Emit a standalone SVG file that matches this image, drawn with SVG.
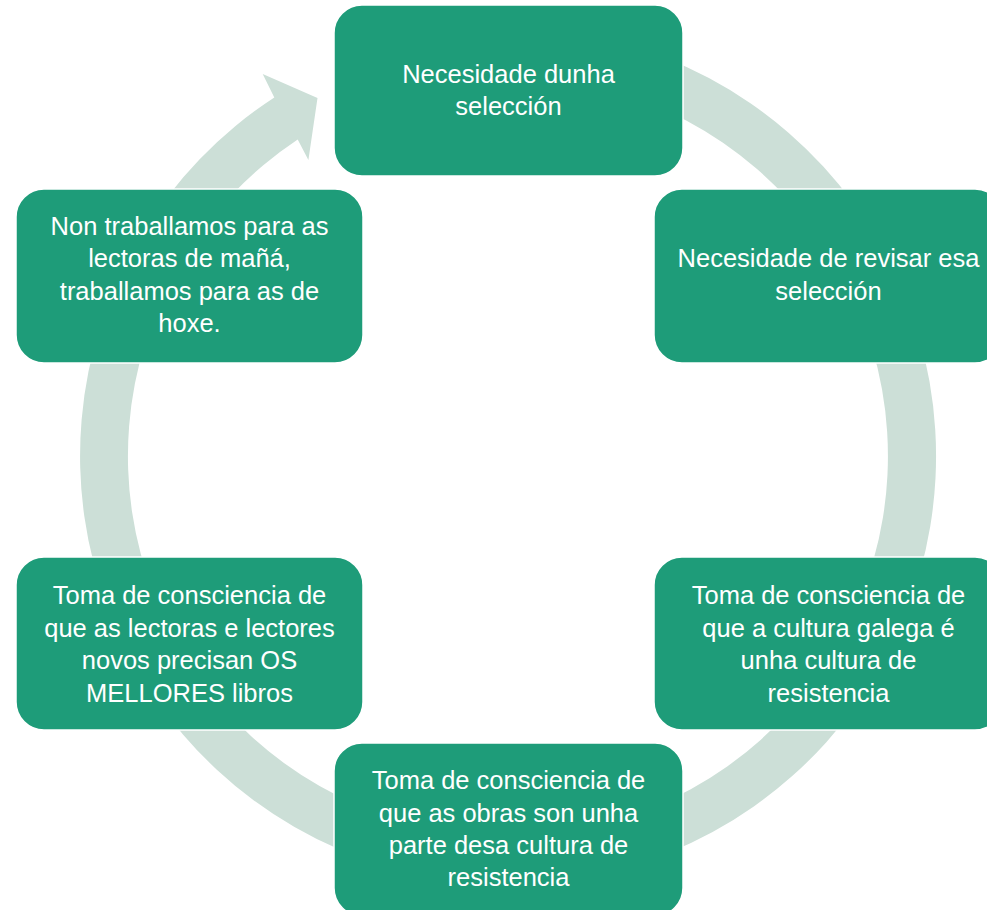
<svg xmlns="http://www.w3.org/2000/svg" width="987" height="910" viewBox="0 0 987 910">
<style>
.box{fill:#1E9C79;stroke:#FFFFFF;stroke-width:1.5}
.t{font-family:"Liberation Sans",Arial,sans-serif;font-size:25.5px;fill:#FFFFFF;text-anchor:middle}
.ring{fill:#CCDFD7}
</style>
<rect width="987" height="910" fill="#FFFFFF"/>
<g id="connectors">
<path class="ring" d="M618.8,42.6 A428,428 0 1 1 274.3,97.5 L262.7,74 L317.5,98 L308.4,160 L297.7,139.5 A380,380 0 1 0 606.3,89 Z"/>
</g>
<g id="node1">
<rect class="box" x="334" y="5" width="349" height="171" rx="28"/>
<text class="t"><tspan x="508.5" y="83">Necesidade dunha</tspan><tspan x="508.5" y="115">selección</tspan></text>
</g>
<g id="node2">
<rect class="box" x="654" y="189" width="349" height="174" rx="28"/>
<text class="t"><tspan x="828.5" y="267.3">Necesidade de revisar esa</tspan><tspan x="828.5" y="299.5">selección</tspan></text>
</g>
<g id="node3">
<rect class="box" x="654" y="557" width="349" height="173" rx="28"/>
<text class="t"><tspan x="828.5" y="604">Toma de consciencia de</tspan><tspan x="828.5" y="636.5">que a cultura galega é</tspan><tspan x="828.5" y="669">unha cultura de</tspan><tspan x="828.5" y="701.5">resistencia</tspan></text>
</g>
<g id="node4">
<rect class="box" x="334" y="743" width="349" height="173" rx="28"/>
<text class="t"><tspan x="508.5" y="789.3">Toma de consciencia de</tspan><tspan x="508.5" y="821.7">que as obras son unha</tspan><tspan x="508.5" y="854">parte desa cultura de</tspan><tspan x="508.5" y="886.3">resistencia</tspan></text>
</g>
<g id="node5">
<rect class="box" x="16" y="557" width="347" height="173" rx="28"/>
<text class="t"><tspan x="189.5" y="604">Toma de consciencia de</tspan><tspan x="189.5" y="636.5">que as lectoras e lectores</tspan><tspan x="189.5" y="669">novos precisan OS</tspan><tspan x="189.5" y="701.5">MELLORES libros</tspan></text>
</g>
<g id="node6">
<rect class="box" x="16" y="189" width="347" height="174" rx="28"/>
<text class="t"><tspan x="189.5" y="235">Non traballamos para as</tspan><tspan x="189.5" y="267.3">lectoras de mañá,</tspan><tspan x="189.5" y="299.5">traballamos para as de</tspan><tspan x="189.5" y="331.7">hoxe.</tspan></text>
</g>
</svg>
